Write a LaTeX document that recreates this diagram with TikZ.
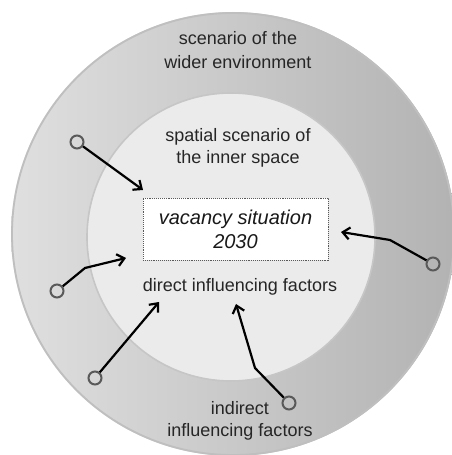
\documentclass[tikz,border=0pt]{standalone}
\usepackage{fontspec}
\setmainfont{Liberation Sans}
\usetikzlibrary{arrows.meta}

\tikzset{
  lbl/.style={align=center, text=black!85, font=\fontsize{18}{22}\selectfont},
  src/.style={circle, draw=black!65, line width=2pt, minimum size=13pt, inner sep=0pt},
  arr/.style={line width=2.2pt, -{Straight Barb[length=7pt,width=12pt,line width=2.2pt]}}
}

\begin{document}
\begin{tikzpicture}[x=1pt,y=1pt]
\useasboundingbox (0,0) rectangle (452,455);
\clip (0,0) rectangle (452,455);

% Rings
\shade[left color=gray!25, right color=gray!60] (233,221) circle (222);
\draw[gray!50, line width=1.8pt] (233,221) circle (221);
\fill[gray!16] (231,218) circle (144);
\draw[gray!45, line width=1.6pt] (231,218) circle (144);

% Labels
\node[lbl] (wider) at (238,405) {scenario of the\\[2pt]wider environment};
\node[lbl] (inner) at (238,307) {spatial scenario of\\the inner space};
\node[lbl] (direct) at (240,168) {direct influencing factors};
\node[lbl] (indirect) at (240,34) {indirect\\influencing factors};

% Target
\node[draw=black!65, densely dotted, line width=0.9pt, fill=white, minimum width=185pt,
      minimum height=62pt, align=center, font=\fontsize{20}{24}\selectfont\itshape,
      text=black!90] (vac) at (235.5,226) {vacancy situation\\2030};

% Sources
\node[src] (s1) at (77,313) {};
\node[src] (s2) at (57,164) {};
\node[src] (s3) at (95,77) {};
\node[src] (s4) at (289,52) {};
\node[src] (s5) at (433,191) {};

% Bends and tips
\coordinate (t1) at (143,265);
\coordinate (b2) at (85,187);
\coordinate (t2) at (126,197);
\coordinate (t3) at (159,153);
\coordinate (b4) at (255,87);
\coordinate (t4) at (236,151);
\coordinate (b5) at (390,215);
\coordinate (t5) at (341,223);

% Arrows
\draw[arr] (s1) -- (t1);
\draw[arr] (s2) -- (b2) -- (t2);
\draw[arr] (s3) -- (t3);
\draw[arr] (s4) -- (b4) -- (t4);
\draw[arr] (s5) -- (b5) -- (t5);
\end{tikzpicture}
\end{document}
